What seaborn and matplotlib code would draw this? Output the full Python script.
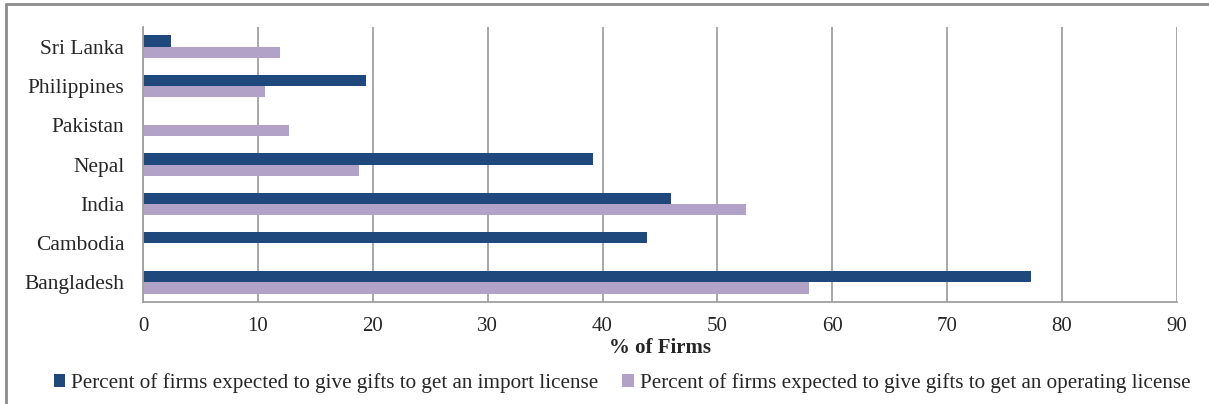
import matplotlib
matplotlib.use("Agg")
import matplotlib.pyplot as plt
from matplotlib.patches import Patch
from matplotlib.lines import Line2D
import numpy as np
import pandas as pd
import seaborn as sns

# Survey results per country (% of firms); NaN where no figure is reported
countries = ["Sri Lanka", "Philippines", "Pakistan", "Nepal", "India", "Cambodia", "Bangladesh"]
import_license = [2.4, 19.4, np.nan, 39.2, 46.0, 43.9, 77.3]
operating_license = [11.9, 10.6, 12.7, 18.8, 52.5, np.nan, 58.0]
series_names = [
    "Percent of firms expected to give gifts to get an import license",
    "Percent of firms expected to give gifts to get an operating license",
]
x_ticks = [0, 10, 20, 30, 40, 50, 60, 70, 80, 90]

colors = ["#1F497D", "#B3A2C7"]
grid_col = "#A0A0A0"

df = pd.DataFrame({
    "country": countries * 2,
    "series": [series_names[0]] * len(countries) + [series_names[1]] * len(countries),
    "value": import_license + operating_license,
})

sns.set_theme(style="white")
plt.rcParams["font.family"] = ["Liberation Serif", "DejaVu Serif"]

fig = plt.figure(figsize=(12.09, 4.04), dpi=100)
ax = fig.add_axes([143 / 1209, 1 - 302 / 404, (1177 - 143) / 1209, (302 - 27) / 404])

sns.barplot(data=df, x="value", y="country", hue="series", order=countries,
            hue_order=series_names, palette=colors, orient="h", width=0.57,
            gap=0, saturation=1, dodge=True, ax=ax, legend=False,
            edgecolor="none", linewidth=0)

ax.set_xlim(0, 90)
ax.set_ylim(len(countries) - 0.5, -0.5)
ax.set_xticks(x_ticks)
ax.set_xticklabels([str(t) for t in x_ticks], fontsize=15)
ax.grid(axis="x", color=grid_col, linewidth=1.3)
ax.set_axisbelow(True)

for s in ["top", "right"]:
    ax.spines[s].set_visible(False)
for s in ["left", "bottom"]:
    ax.spines[s].set_color(grid_col)
    ax.spines[s].set_linewidth(1.3)

# Category labels without ticks; tick marks sit on category boundaries
ax.tick_params(axis="y", which="major", length=0, pad=13.5, labelsize=15.5)
ax.set_yticks(np.arange(-0.5, len(countries), 1.0), minor=True)
ax.tick_params(axis="y", which="minor", length=5, width=1.3, color=grid_col, direction="out")
ax.tick_params(axis="x", which="major", length=5, width=1.3, color=grid_col, direction="out", pad=6)

ax.set_ylabel("")
ax.set_xlabel("% of Firms", fontsize=15, fontweight="bold", labelpad=1)

handles = [Patch(facecolor=c, edgecolor="none") for c in colors]
fig.legend(handles, series_names, loc="center", bbox_to_anchor=(622 / 1209, 1 - 383 / 404),
           ncol=2, frameon=False, fontsize=15.2, handlelength=0.55, handleheight=0.55,
           handletextpad=0.3, columnspacing=1.1, borderaxespad=0)

# Chart frame edges along the top and left
fig.add_artist(Line2D([6 / 1209, 1], [1 - 4 / 404, 1 - 4 / 404], color="#8C8C8C", lw=2, transform=fig.transFigure))
fig.add_artist(Line2D([6 / 1209, 6 / 1209], [0, 1 - 4 / 404], color="#8C8C8C", lw=2, transform=fig.transFigure))

fig.savefig("out.png", dpi=100)
